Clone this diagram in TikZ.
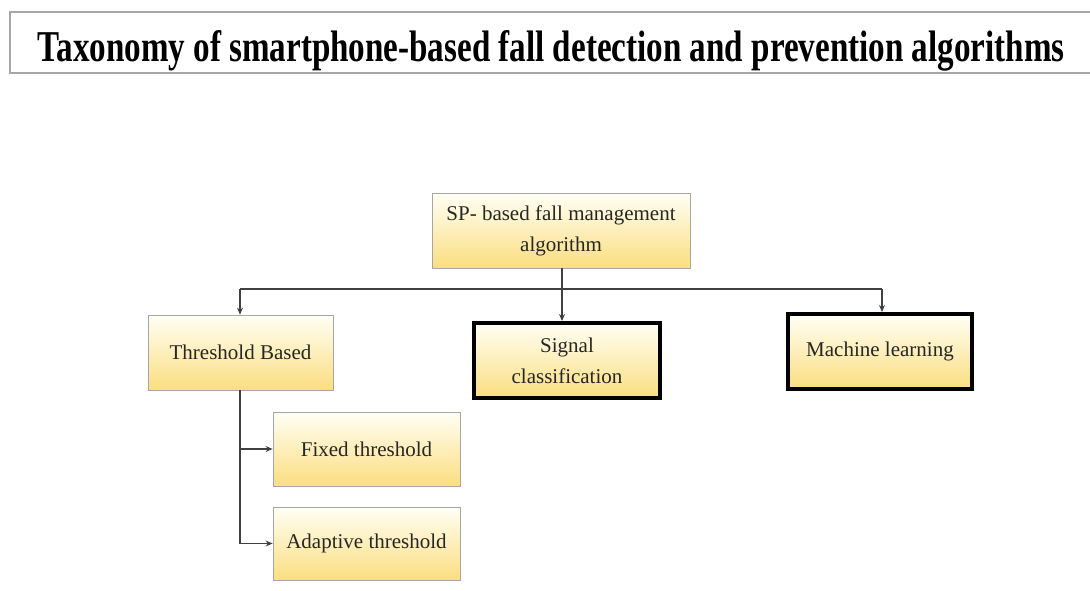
\documentclass[tikz,border=0pt]{standalone}
\usepackage{fontspec}
\setmainfont{Liberation Serif}
\usetikzlibrary{arrows.meta}
\begin{document}
\begin{tikzpicture}[x=1pt,y=-1pt,
  box/.style={draw=gray!70, line width=0.8pt, top color=yellow!4!white, bottom color={rgb,255:red,251;green,222;blue,128},
    minimum width=#1, inner sep=2pt, align=center, font=\fontsize{21}{31}\selectfont, text=black!85},
  heavy/.style={draw=black, line width=4pt},
  link/.style={draw=black!75, line width=1.1pt},
  tip/.style={link, -{Stealth[length=7pt,width=6pt]}}]
\useasboundingbox (0,0) rectangle (1090,591);
% title banner
\draw[gray!70, line width=2.2pt] (10,12) rectangle (1096,73);
\node[inner sep=0pt, anchor=base] (title) at (551,62)
  {\resizebox{1027pt}{31pt}{\bfseries Taxonomy of smartphone-based fall detection and prevention algorithms}};
% nodes
\node[box=258pt, minimum height=75pt] (top) at (561,230.5) {SP- based fall management\\algorithm};
\node[box=185pt, minimum height=75pt] (thr) at (240.5,352.5) {Threshold Based};
\node[box=186pt, minimum height=75pt, heavy] (sig) at (567,360.5) {Signal\\classification};
\node[box=184pt, minimum height=75pt, heavy] (ml) at (880,351.5) {Machine learning};
\node[box=187pt, minimum height=74pt] (fix) at (366.5,449) {Fixed threshold};
\node[box=187pt, minimum height=73pt] (ada) at (366.5,543.5) {Adaptive threshold};
% connectors
\coordinate (j) at (562,289);
\coordinate (jl) at (240,289);
\coordinate (jr) at (882,289);
\draw[link] (top.south -| j) -- (j);
\draw[link] (jl) -- (jr);
\draw[tip] (j) -- (j |- sig.north);
\draw[tip] (jl) -- (jl |- thr.north);
\draw[tip] (jr) -- (jr |- ml.north);
\coordinate (t) at (240,390);
\draw[tip] (thr.south -| t) -- (t |- ada.west) -- (ada.west);
\draw[tip] (t |- fix.west) -- (fix.west);
\end{tikzpicture}
\end{document}
